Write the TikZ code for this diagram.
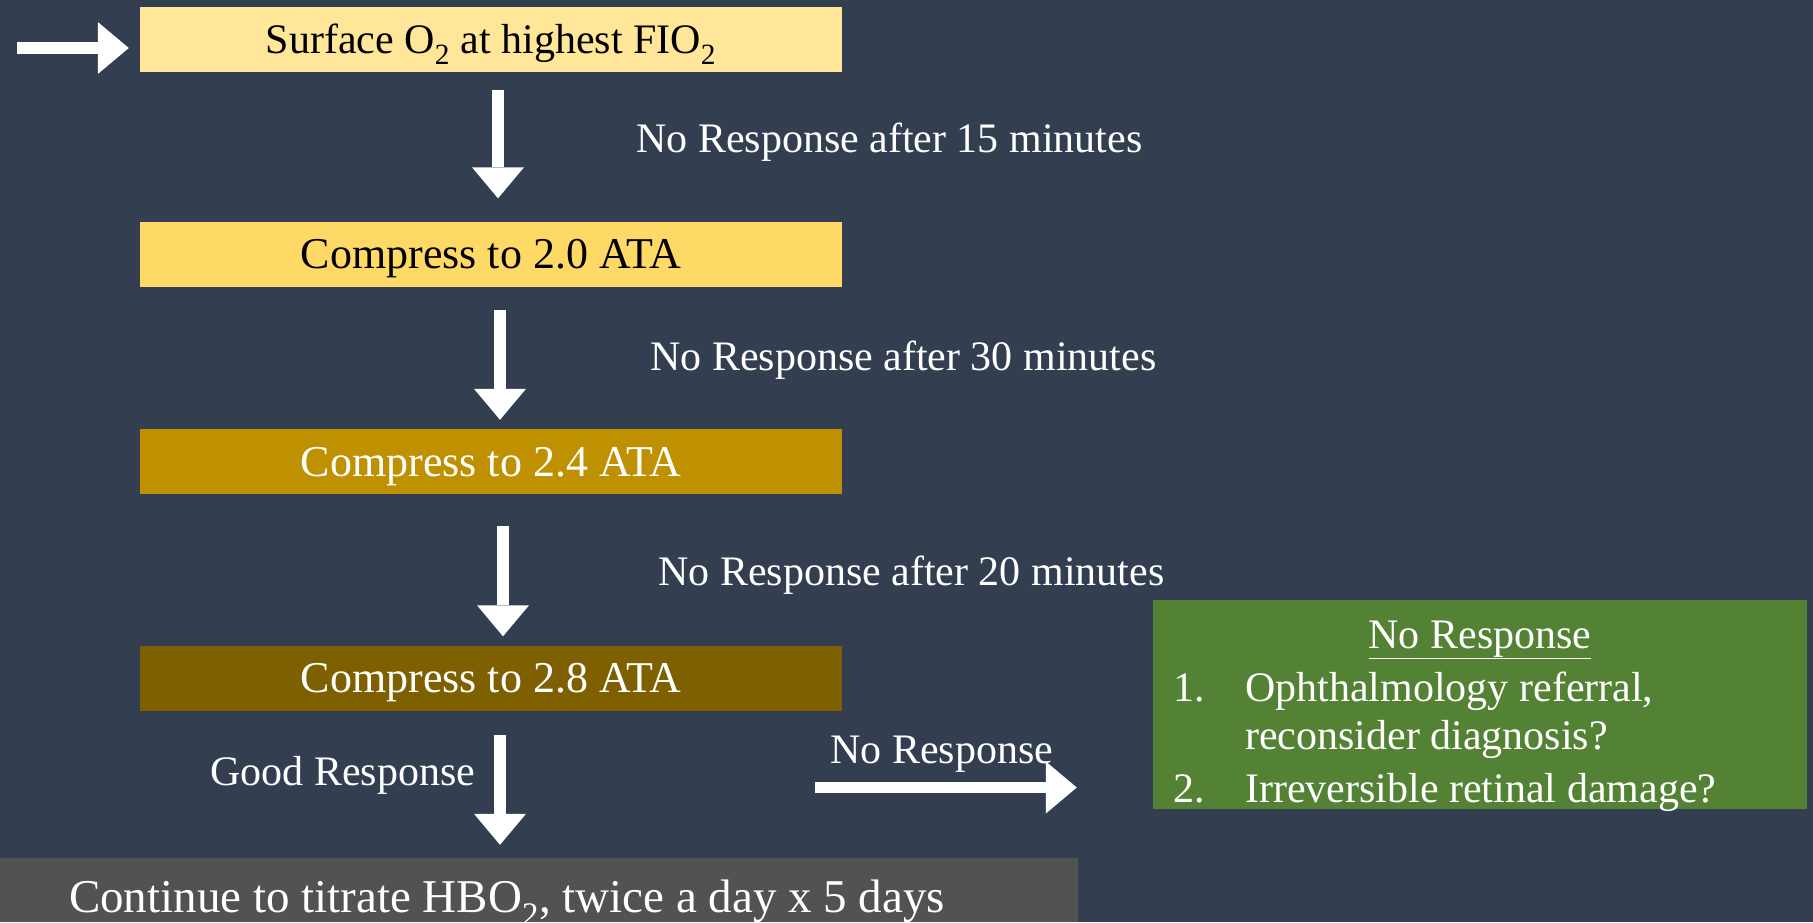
\documentclass[tikz,border=0pt]{standalone}
\usepackage{fontspec}
\setmainfont{Liberation Serif}
\usetikzlibrary{positioning, arrows.meta, calc}

\definecolor{slide}{HTML}{333F50}
\definecolor{surfacefill}{HTML}{FFE699}
\definecolor{atatwo}{HTML}{FFD966}
\definecolor{atatwofour}{HTML}{BF9000}
\definecolor{atatwoeight}{HTML}{7F6000}
\definecolor{finalfill}{HTML}{525252}
\definecolor{failfill}{HTML}{548235}

\tikzset{
  stagebox/.style={fill=#1, minimum width=702pt, minimum height=65pt, inner sep=0pt,
    text height=29pt, text depth=0pt, font=\fontsize{42}{50}\selectfont},
  compress/.style={stagebox=#1, font=\fontsize{44}{50}\selectfont},
  note/.style={text=white, inner sep=0pt, anchor=base west, font=\fontsize{42}{50}\selectfont},
  flow/.style={white, line width=11.5pt, -{Triangle[width=52pt,length=31pt,line width=0pt]}},
}

\begin{document}
\begin{tikzpicture}[x=1pt,y=-1pt]
        % Slide
        \useasboundingbox (0,0) rectangle (1813,922);
        \fill[slide] (0,0) rectangle (1813,922);

        % Steps of the protocol
        \node[stagebox=surfacefill] (surface) at (491,39) {Surface O\textsubscript{2} at highest FIO\textsubscript{2}};
        \node[compress=atatwo] (ata20) at (491,254) {Compress to 2.0 ATA};
        \node[compress=atatwofour, text=white] (ata24) at (491,461.5) {Compress to 2.4 ATA};
        \node[compress=atatwoeight, text=white] (ata28) at (491,678) {Compress to 2.8 ATA};
        \node[fill=finalfill, text=white, minimum width=1142pt, minimum height=64pt, inner sep=0pt,
              text height=44pt, text depth=0pt, font=\fontsize{47}{50}\selectfont]
              (final) at (507,890) {Continue to titrate HBO\textsubscript{2}, twice a day x 5 days};
        \node[fill=failfill, minimum width=654pt, minimum height=209pt, inner sep=0pt] (noresp) at (1480,704.5) {};

        % Text of the no response box
        \node[note, anchor=base] (failtitle) at (1480,648) {\underline{No Response}};
        \node[note] (failone) at (1173,701) {1.};
        \node[note] (failonea) at (1245,701) {Ophthalmology referral,};
        \node[note] (failoneb) at (1245,749) {reconsider diagnosis?};
        \node[note] (failtwo) at (1173,802) {2.};
        \node[note] (failtwoa) at (1245,802) {Irreversible retinal damage?};

        % Arrows
        \coordinate (entry) at (17,48);
        \draw[flow, shorten >=11pt] (entry) -- (entry -| surface.west);
        \draw[flow, shorten <=18pt, shorten >=23pt] ([xshift=7pt]surface.south) -- ([xshift=7pt]ata20.north);
        \draw[flow, shorten <=23.5pt, shorten >=9pt] ([xshift=9pt]ata20.south) -- ([xshift=9pt]ata24.north);
        \draw[flow, shorten <=32pt, shorten >=9pt] ([xshift=12pt]ata24.south) -- ([xshift=12pt]ata28.north);
        \draw[flow, shorten <=24.5pt, shorten >=13pt] ([xshift=9pt]ata28.south) -- ([xshift=9pt]ata28.south |- final.north);
        \coordinate (branch) at (815,787.5);
        \draw[flow, shorten >=76pt] (branch) -- (branch -| noresp.west);

        % Labels
        \node[note] (wait15) at (636,152) {No Response after 15 minutes};
        \node[note] (wait30) at (650,370) {No Response after 30 minutes};
        \node[note] (wait20) at (658,585) {No Response after 20 minutes};
        \node[note] (good) at (210,785) {Good Response};
        \node[note] (bad) at (830,763) {No Response};
    \end{tikzpicture}
\end{document}
